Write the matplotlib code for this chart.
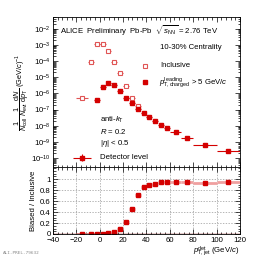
import matplotlib
matplotlib.use("Agg")
import matplotlib.pyplot as plt
import numpy as np
from matplotlib.ticker import MultipleLocator, LogLocator, NullFormatter, FixedLocator

plt.rcParams['font.family'] = ['Liberation Sans', 'DejaVu Sans']
plt.rcParams['mathtext.fontset'] = 'custom'
plt.rcParams['mathtext.rm'] = 'Liberation Sans'
plt.rcParams['mathtext.it'] = 'Liberation Sans:italic'

# Inclusive spectrum (open squares)
incl_x = [-15, -7.5, -2.5, 2.5, 7.5, 12.5, 17.5, 22.5, 27.5, 32.5]
incl_xerr = [5, 2.5, 2.5, 2.5, 2.5, 2.5, 2.5, 2.5, 2.5, 2.5]
incl_y = [5.0e-7, 8.5e-5, 1.1e-3, 1.2e-3, 4.3e-4, 9.3e-5, 1.7e-5, 2.8e-6, 5.5e-7, 1.7e-7]

# Biased spectrum (filled squares)
bias_x = [-2.5, 2.5, 7.5, 12.5, 17.5, 22.5, 27.5, 32.5, 37.5, 42.5, 47.5, 52.5, 57.5, 65, 75, 90, 110]
bias_xerr = [2.5, 2.5, 2.5, 2.5, 2.5, 2.5, 2.5, 2.5, 2.5, 2.5, 2.5, 2.5, 2.5, 5, 5, 10, 10]
bias_y = [4.0e-7, 2.6e-6, 4.3e-6, 3.1e-6, 1.5e-6, 5.0e-7, 2.5e-7, 1.15e-7, 5.9e-8, 3.3e-8,
          2.0e-8, 1.12e-8, 6.9e-9, 4.3e-9, 1.8e-9, 6.5e-10, 2.7e-10]

# Ratio biased / inclusive
ratio_x = [-15, -7.5, -2.5, 2.5, 7.5, 12.5, 17.5, 22.5, 27.5, 32.5, 37.5, 42.5, 47.5, 52.5, 57.5, 65, 75, 90, 110]
ratio_xerr = [5, 2.5, 2.5, 2.5, 2.5, 2.5, 2.5, 2.5, 2.5, 2.5, 2.5, 2.5, 2.5, 2.5, 2.5, 5, 5, 10, 10]
ratio_y = [0.0, 0.0, 0.0, 0.002, 0.02, 0.04, 0.1, 0.22, 0.45, 0.71, 0.85, 0.90, 0.91, 0.94, 0.95, 0.955, 0.955, 0.93, 0.94]

red = '#d40000'
lred = '#e05555'
pink = '#f0a0a0'

fig = plt.figure(figsize=(2.66, 2.57), dpi=100)
ax1 = fig.add_axes([0.199, 0.350, 0.703, 0.584])
ax2 = fig.add_axes([0.199, 0.0895, 0.703, 0.2605])

fs = 5.6

# top panel
ax1.errorbar(incl_x, incl_y, xerr=incl_xerr, fmt='s', ms=3.2, mfc='white', mec=lred,
             mew=0.8, ecolor=lred, elinewidth=0.8, capsize=0)
ax1.errorbar(bias_x, bias_y, xerr=bias_xerr, fmt='s', ms=3.2, mfc=red, mec=red,
             ecolor=red, elinewidth=0.8, capsize=0)
ax1.set_yscale('log')
ax1.set_xlim(-40, 120)
ax1.set_ylim(10**-10.55, 10**-1.28)
ax1.yaxis.set_major_locator(FixedLocator([10.0**k for k in range(-10, -1)]))
ax1.yaxis.set_minor_locator(LogLocator(base=10, subs=np.arange(2, 10), numticks=30))
ax1.yaxis.set_minor_formatter(NullFormatter())
ax1.xaxis.set_major_locator(MultipleLocator(20))
ax1.xaxis.set_minor_locator(MultipleLocator(4))
ax1.set_xticklabels([])
ax1.tick_params(which='both', direction='in', top=True, right=True, labelsize=fs, pad=1.5)
ax1.tick_params(which='major', length=3.5, width=0.5)
ax1.tick_params(which='minor', length=1.8, width=0.5)
ax1.set_ylabel(r'$\dfrac{1}{N_{\mathrm{coll}}}\,\dfrac{1}{N_{\mathrm{evt}}}\,\dfrac{\mathrm{d}N}{\mathrm{d}p_{\mathrm{T}}}$ (GeV/$c$)$^{-1}$',
               fontsize=5.3, labelpad=0)

ax1.text(0.04, 0.955, r'ALICE  Preliminary  Pb-Pb  $\sqrt{s_{\mathrm{NN}}}$ = 2.76 TeV',
         transform=ax1.transAxes, fontsize=fs, va='top', ha='left')
ax1.text(0.575, 0.795, '10-30% Centrality', transform=ax1.transAxes, fontsize=fs, va='center')
ax1.plot([0.495], [0.675], 's', ms=3.2, mfc='white', mec=lred, mew=0.8, transform=ax1.transAxes)
ax1.text(0.575, 0.675, 'Inclusive', transform=ax1.transAxes, fontsize=fs, va='center')
ax1.plot([0.495], [0.565], 's', ms=3.2, mfc=red, mec=red, transform=ax1.transAxes)
ax1.text(0.565, 0.565, r'$p_{\mathrm{T,charged}}^{\mathrm{leading}}$ > 5 GeV/$c$',
         transform=ax1.transAxes, fontsize=fs, va='center')
ax1.text(0.25, 0.315, r'anti-$k_{\mathrm{T}}$', transform=ax1.transAxes, fontsize=fs, va='center')
ax1.text(0.25, 0.235, r'$R$ = 0.2', transform=ax1.transAxes, fontsize=fs, va='center')
ax1.text(0.25, 0.16, r'|$\eta$| < 0.5', transform=ax1.transAxes, fontsize=fs, va='center')
ax1.errorbar([0.155], [0.063], xerr=[0.05], yerr=[0.025], fmt='s', ms=3.2, mfc=red, mec=red,
             ecolor=red, elinewidth=0.8, capsize=0, transform=ax1.transAxes)
ax1.text(0.25, 0.063, 'Detector level', transform=ax1.transAxes, fontsize=fs, va='center')

# bottom panel
ax2.errorbar(ratio_x, ratio_y, xerr=ratio_xerr, fmt='none', ecolor=pink, elinewidth=2.0, capsize=0)
ax2.plot(ratio_x, ratio_y, 's', ms=3.2, mfc=red, mec=red, ls='none')
ax2.axhline(0, color='#800000', lw=1.0)
ax2.set_xlim(-40, 120)
ax2.set_ylim(0, 1.22)
ax2.xaxis.set_major_locator(MultipleLocator(20))
ax2.xaxis.set_minor_locator(MultipleLocator(4))
ax2.yaxis.set_minor_locator(MultipleLocator(0.05))
ax2.set_yticks([0, 0.2, 0.4, 0.6, 0.8, 1.0])
ax2.set_yticklabels(['0', '0.2', '0.4', '0.6', '0.8', '1'])
ax2.grid(True, which='major', ls=(0, (2, 2)), color='#999999', lw=0.5)
ax2.tick_params(which='both', direction='in', top=True, right=True, labelsize=fs, pad=1.5)
ax2.tick_params(axis='x', which='major', pad=2.5)
ax2.tick_params(which='major', length=3.5, width=0.5)
ax2.tick_params(which='minor', length=1.8, width=0.5)
ax2.set_ylabel('Biased / Inclusive', fontsize=fs, labelpad=2)
ax2.set_xlabel(r'$p_{\mathrm{T,jet}}^{\mathrm{det}}$ (GeV/$c$)', fontsize=fs, loc='right', labelpad=0)

for ax in (ax1, ax2):
    for s in ax.spines.values():
        s.set_linewidth(0.6)

fig.text(0.01, 0.012, 'ALI-PREL-79632', fontsize=3.2, color='#888888', family='DejaVu Sans Mono')

fig.savefig('out.png', dpi=100)
